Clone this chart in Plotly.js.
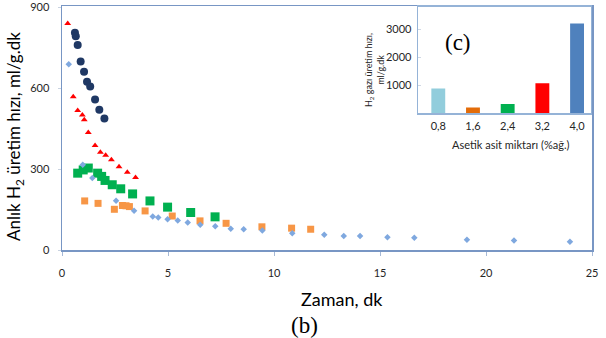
<!DOCTYPE html>
<html><head><meta charset="utf-8">
<script src="https://cdn.plot.ly/plotly-3.0.1.min.js"></script>
<style>html,body{margin:0;padding:0;background:#fff}#chart{width:606px;height:338px}</style>
</head><body><div id="chart"></div>
<script>
// Time (min) and instantaneous H2 production rate (ml/g.min) per acetic acid amount
const time08 = [0.32,0.98,1.43,2.55,3.40,4.28,4.54,4.98,5.46,5.93,6.52,7.23,7.96,8.57,9.45,10.86,12.37,13.29,14.06,15.35,16.62,19.1,21.32,23.96];
const rate08 = [689,316,267,183,146,124,121,114,109,102,94,88,79,77,72,62,57,52,52,47,45,38,35,31];
const time16 = [1.07,1.70,2.47,2.85,3.02,3.18,3.92,5.2,6.51,7.74,9.43,10.83,11.73];
const rate16 = [182,173,151,165,164,161,145,126,108,99,86,81,77];
const time24 = [0.74,1.0,1.24,1.68,1.87,2.03,2.37,2.77,3.33,4.15,4.98,6.07,7.22];
const rate24 = [285,297,304,285,273,258,242,227,208,182,159,139,123];
const time32 = [0.27,0.53,0.74,0.96,1.05,1.24,1.56,1.81,2.06,2.33,2.69,3.08,3.47];
const rate32 = [840,568,517,501,483,436,388,363,351,335,309,288,269];
const time40 = [0.61,0.65,0.74,0.88,1.04,1.18,1.33,1.56,1.76,2.0];
const rate40 = [806,793,760,699,661,624,606,558,520,488];
// Inset (c)
const acidLabels = ['0,8','1,6','2,4','3,2','4,0'];
const gasRate = [880,200,330,1070,3200];
const xTicks = [0,5,10,15,20,25];
const yTicks = [0,300,600,900];
const insetTicks = [1000,2000,3000];

const c08='#7FA8DF', c16='#F79646', c24='#00B050', c32='#FF0000', c40='#1F3864';
const barColors=['#92CDDC','#E36C09','#00B050','#FF0000','#4F81BD'];

const traces = [
  {x:time16,y:rate16,type:'scatter',mode:'markers',marker:{symbol:'square',size:7,color:c16},xaxis:'x',yaxis:'y'},
  {x:time24,y:rate24,type:'scatter',mode:'markers',marker:{symbol:'square',size:9,color:c24},xaxis:'x',yaxis:'y'},
  {x:time08,y:rate08,type:'scatter',mode:'markers',marker:{symbol:'diamond',size:5,color:c08},xaxis:'x',yaxis:'y'},
  {x:time32,y:rate32,type:'scatter',mode:'markers',marker:{symbol:'triangle-up',size:6,color:c32},xaxis:'x',yaxis:'y'},
  {x:time40,y:rate40,type:'scatter',mode:'markers',marker:{symbol:'circle',size:8,color:c40},xaxis:'x',yaxis:'y'},
  {x:acidLabels,y:gasRate,type:'bar',width:0.4,marker:{color:barColors},xaxis:'x2',yaxis:'y2'}
];

const px = v => (v-62)/530, py = v => (250-v)/244;

const layout = {
  width:606,height:338,autosize:false,
  margin:{l:62,r:14,t:6,b:88,pad:0},
  paper_bgcolor:'#fff',plot_bgcolor:'#fff',
  font:{family:'Lato, sans-serif',size:11,color:'#262626'},
  showlegend:false,
  xaxis:{domain:[0,1],range:[0,25],tickvals:xTicks,showgrid:false,zeroline:false,showline:true,mirror:true,
    linecolor:'#7896C4',linewidth:1.5,ticks:'outside',ticklen:4,tickcolor:'#A6B9D6',ticklabelstandoff:8},
  yaxis:{domain:[0,1],range:[0,905],tickvals:yTicks,showgrid:false,zeroline:false,showline:true,mirror:true,
    linecolor:'#7896C4',linewidth:1.5,ticks:'outside',ticklen:3,tickcolor:'#C8D2E0',ticklabelstandoff:6},
  xaxis2:{domain:[0.672,0.998],anchor:'y2',type:'category',range:[-0.58,4.4],showgrid:false,zeroline:false,
    showline:true,mirror:true,linecolor:'#95B3D7',linewidth:1.5,ticks:'',ticklabelstandoff:2},
  yaxis2:{domain:[0.561,0.996],anchor:'x2',range:[0,3790],tickvals:insetTicks,showgrid:false,zeroline:false,
    showline:true,mirror:true,linecolor:'#95B3D7',linewidth:1.5,ticks:'inside',ticklen:3,tickcolor:'#D0D8E4',ticklabelstandoff:3},
  annotations:[
    {xref:'paper',yref:'paper',x:px(15),y:py(137),text:'Anlık H<sub>2</sub> üretim hızı, ml/g.dk',textangle:-90,showarrow:false,
      xanchor:'center',yanchor:'middle',font:{size:17,color:'#000'}},
    {xref:'paper',yref:'paper',x:px(342),y:py(299),text:'Zaman, dk',showarrow:false,xanchor:'center',yanchor:'middle',font:{size:18,color:'#000'}},
    {xref:'paper',yref:'paper',x:px(304),y:py(325),text:'(b)',showarrow:false,xanchor:'center',yanchor:'middle',
      font:{family:'Liberation Serif, Times New Roman, serif',size:23,color:'#000'}},
    {xref:'paper',yref:'paper',x:px(458),y:py(42),text:'(c)',showarrow:false,xanchor:'center',yanchor:'middle',
      font:{family:'Liberation Serif, Times New Roman, serif',size:23,color:'#000'}},
    {xref:'paper',yref:'paper',x:px(374),y:py(70),text:'H<sub>2</sub> gazı üretim hızı,<br>ml/g.dk',textangle:-90,showarrow:false,
      xanchor:'center',yanchor:'middle',font:{size:9,color:'#262626'}},
    {xref:'paper',yref:'paper',x:px(510),y:py(144),text:'Asetik asit miktarı (%ağ.)',showarrow:false,xanchor:'center',yanchor:'middle',
      font:{size:11,color:'#262626'}}
  ]
};

Plotly.newPlot('chart',traces,layout,{displayModeBar:false,staticPlot:true});
</script></body></html>
